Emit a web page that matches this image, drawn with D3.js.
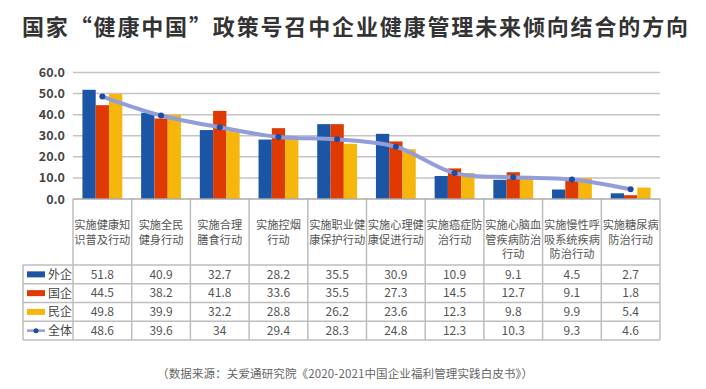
<!DOCTYPE html>
<html>
<head>
<meta charset="utf-8">
<script src="https://cdn.jsdelivr.net/npm/d3@7"></script>
<style>
  body { margin: 0; background: #fff; }
  text { font-family: "Noto Sans CJK SC", "Noto Sans", sans-serif; }
</style>
</head>
<body>
<svg id="chart" width="706" height="389"></svg>
<script>
// categories (table header labels, "\n" = line break)
const categories = [
  "实施健康知\n识普及行动",
  "实施全民\n健身行动",
  "实施合理\n膳食行动",
  "实施控烟\n行动",
  "实施职业健\n康保护行动",
  "实施心理健\n康促进行动",
  "实施癌症防\n治行动",
  "实施心脑血\n管疾病防治\n行动",
  "实施慢性呼\n吸系统疾病\n防治行动",
  "实施糖尿病\n防治行动"
];

const foreignValues = [51.8, 40.9, 32.7, 28.2, 35.5, 30.9, 10.9, 9.1, 4.5, 2.7];
const stateValues = [44.5, 38.2, 41.8, 33.6, 35.5, 27.3, 14.5, 12.7, 9.1, 1.8];
const privateValues = [49.8, 39.9, 32.2, 28.8, 26.2, 23.6, 12.3, 9.8, 9.9, 5.4];
const overallValues = [48.6, 39.6, 34, 29.4, 28.3, 24.8, 12.3, 10.3, 9.3, 4.6];

const barSeries = ["外企", "国企", "民企"];
const lineSeries = "全体";
const yTicks = [0, 10, 20, 30, 40, 50, 60];

const colors = { "外企": "#1b55a6", "国企": "#df3a02", "民企": "#f6b60c" };
const lineColor = "#929dd9";
const dotColor = "#1f4c9c";

const svg = d3.select("#chart");

const plot = { left: 73, right: 660, top: 72.5, bottom: 199 };
const table = { left: 23, headerBottom: 265, bottom: 340 };

// Title
svg.append("text")
  .attr("x", 22)
  .attr("y", 35)
  .attr("textLength", 666)
  .attr("lengthAdjust", "spacing")
  .attr("font-size", 22)
  .attr("font-weight", "bold")
  .attr("fill", "#333")
  .text("国家“健康中国”政策号召中企业健康管理未来倾向结合的方向");

// Scales
const x = d3.scaleBand()
  .domain(d3.range(categories.length))
  .range([plot.left, plot.right]);

const x1 = d3.scaleBand()
  .domain(barSeries)
  .range([0, x.bandwidth()])
  .paddingOuter(0.71);

const y = d3.scaleLinear()
  .domain([0, 60])
  .range([plot.bottom, plot.top]);

// Gridlines
svg.append("g")
  .selectAll("line")
  .data(yTicks.filter(d => d > 0))
  .enter()
  .append("line")
  .attr("x1", plot.left)
  .attr("x2", plot.right)
  .attr("y1", d => y(d))
  .attr("y2", d => y(d))
  .attr("stroke", "#c4c4c4")
  .attr("stroke-width", 1.5);

// Y axis labels
const yAxis = svg.append("g")
  .attr("transform", `translate(${plot.left}, 0)`)
  .call(d3.axisLeft(y).tickValues(yTicks).tickSize(0).tickPadding(8).tickFormat(d3.format(".1f")));
yAxis.select(".domain").remove();
yAxis.selectAll("text")
  .attr("font-family", "'Open Sans', sans-serif")
  .attr("font-size", 12.5)
  .attr("font-weight", 700)
  .attr("fill", "#444");

// Bars
const seriesData = {
  "外企": foreignValues,
  "国企": stateValues,
  "民企": privateValues
};

barSeries.forEach(s => {
  svg.append("g")
    .selectAll("rect")
    .data(seriesData[s])
    .enter()
    .append("rect")
    .attr("x", (d, i) => x(i) + x1(s))
    .attr("y", d => y(d))
    .attr("width", x1.bandwidth())
    .attr("height", d => y(0) - y(d))
    .attr("fill", colors[s]);
});

// Overall line
const line = d3.line()
  .x((d, i) => x(i) + x.bandwidth() / 2)
  .y(d => y(d))
  .curve(d3.curveCatmullRom.alpha(0.5));

svg.append("path")
  .datum(overallValues)
  .attr("d", line)
  .attr("fill", "none")
  .attr("stroke", lineColor)
  .attr("stroke-width", 4)
  .attr("stroke-linecap", "round");

svg.append("g")
  .selectAll("circle")
  .data(overallValues)
  .enter()
  .append("circle")
  .attr("cx", (d, i) => x(i) + x.bandwidth() / 2)
  .attr("cy", d => y(d))
  .attr("r", 3)
  .attr("fill", dotColor);

// Data table
const rows = barSeries.concat([lineSeries]);
const rowValues = [foreignValues, stateValues, privateValues, overallValues];
const rowY = d3.scaleBand()
  .domain(rows)
  .range([table.headerBottom, table.bottom]);

const grid = svg.append("g")
  .attr("stroke", "#bdbdbd")
  .attr("stroke-width", 1.5);

// vertical lines through header and body
d3.range(categories.length + 1).forEach(i => {
  const xv = i < categories.length ? x(i) : plot.right;
  grid.append("line")
    .attr("x1", xv).attr("x2", xv)
    .attr("y1", plot.bottom).attr("y2", table.bottom);
});
grid.append("line")
  .attr("x1", table.left).attr("x2", table.left)
  .attr("y1", table.headerBottom).attr("y2", table.bottom);

// horizontal lines
rows.concat(["end"]).forEach((r, i) => {
  const yv = i < rows.length ? rowY(r) : table.bottom;
  grid.append("line")
    .attr("x1", table.left).attr("x2", plot.right)
    .attr("y1", yv).attr("y2", yv);
});

// x axis line
svg.append("line")
  .attr("x1", plot.left).attr("x2", plot.right)
  .attr("y1", plot.bottom).attr("y2", plot.bottom)
  .attr("stroke", "#aaa")
  .attr("stroke-width", 1.5);

// header labels
const header = svg.append("g")
  .selectAll("text")
  .data(categories)
  .enter()
  .append("text")
  .attr("text-anchor", "middle")
  .attr("font-size", 11.2)
  .attr("fill", "#555");
header.each(function (d, i) {
  d.split("\n").forEach((ln, k) => {
    d3.select(this).append("tspan")
      .attr("x", x(i) + x.bandwidth() / 2)
      .attr("y", 229 + k * 14.5)
      .text(ln);
  });
});

// values
rows.forEach((r, ri) => {
  svg.append("g")
    .selectAll("text")
    .data(rowValues[ri])
    .enter()
    .append("text")
    .attr("x", (d, i) => x(i) + x.bandwidth() / 2)
    .attr("y", rowY(r) + rowY.bandwidth() / 2)
    .attr("dy", "0.36em")
    .attr("text-anchor", "middle")
    .attr("font-family", "'Liberation Sans', sans-serif")
    .attr("font-size", 12)
    .attr("fill", "#555")
    .text(d => String(d));
});

// legend cells
rows.forEach(r => {
  const cy = rowY(r) + rowY.bandwidth() / 2;
  if (r === lineSeries) {
    svg.append("line")
      .attr("x1", 27).attr("x2", 45)
      .attr("y1", cy).attr("y2", cy)
      .attr("stroke", lineColor)
      .attr("stroke-width", 2.5);
    svg.append("circle")
      .attr("cx", 36).attr("cy", cy).attr("r", 2.5)
      .attr("fill", dotColor);
  } else {
    svg.append("rect")
      .attr("x", 27).attr("y", cy - 3)
      .attr("width", 18).attr("height", 6)
      .attr("fill", colors[r]);
  }
  svg.append("text")
    .attr("x", 48)
    .attr("y", cy)
    .attr("dy", "0.38em")
    .attr("font-size", 12)
    .attr("fill", "#444")
    .text(r);
});

// Source
svg.append("text")
  .attr("x", 157)
  .attr("y", 378)
  .attr("textLength", 376)
  .attr("lengthAdjust", "spacing")
  .attr("font-size", 11.5)
  .attr("fill", "#666")
  .text("（数据来源：关爱通研究院《2020-2021中国企业福利管理实践白皮书》）");
</script>
</body>
</html>
